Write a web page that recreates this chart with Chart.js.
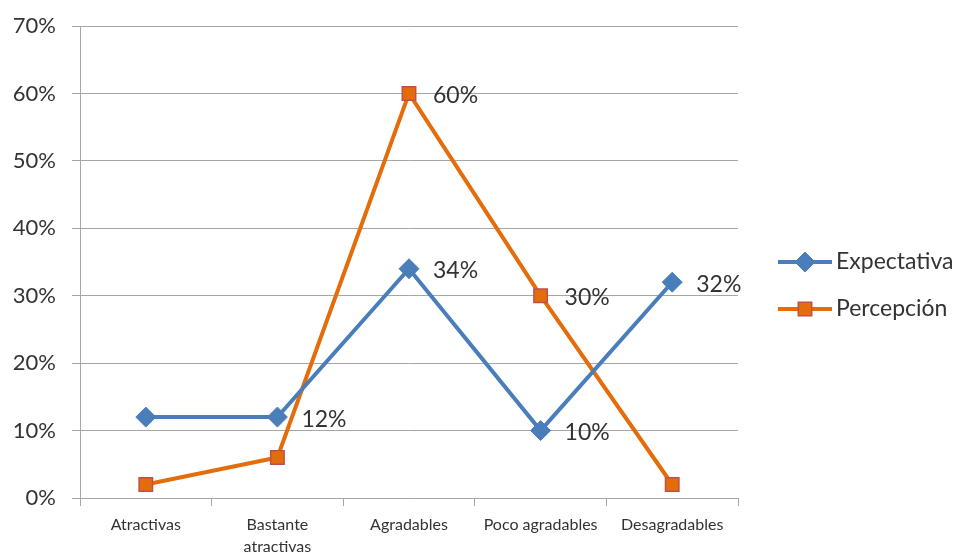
<!DOCTYPE html>
<html>
<head>
<meta charset="utf-8">
<script src="https://cdn.jsdelivr.net/npm/chart.js@4.4.1/dist/chart.umd.min.js"></script>
<style>
  html, body { margin: 0; padding: 0; background: #fff; }
  #wrap { width: 962px; height: 554px; }
</style>
</head>
<body>
<div id="wrap"><canvas id="chart"></canvas></div>
<script>
const categories = ['Atractivas', ['Bastante', 'atractivas'], 'Agradables', 'Poco agradables', 'Desagradables'];
const expectativa = [12, 12, 34, 10, 32];
const percepcion = [2, 6, 60, 30, 2];
// which points carry a value label (same as the picture)
const expectativaLabels = [false, true, true, true, true];
const percepcionLabels = [false, false, true, true, false];
const yTicks = [0, 10, 20, 30, 40, 50, 60, 70];

const FONT = 'Lato, "Open Sans", sans-serif';
const gridColor = '#a6a6a6';
const textColor = '#333333';

// value labels beside points
const pointLabels = {
  id: 'pointLabels',
  afterDatasetsDraw(chart) {
    const ctx = chart.ctx;
    const flags = [expectativaLabels, percepcionLabels];
    ctx.save();
    ctx.font = '23px ' + FONT;
    ctx.fillStyle = textColor;
    ctx.textAlign = 'left';
    ctx.textBaseline = 'middle';
    chart.data.datasets.forEach((ds, i) => {
      chart.getDatasetMeta(i).data.forEach((pt, j) => {
        if (!flags[i][j]) return;
        ctx.fillText(ds.data[j] + '%', pt.x + 24, pt.y + 2);
      });
    });
    ctx.restore();
  }
};

// legend on the right with line + marker
const sideLegend = {
  id: 'sideLegend',
  afterDraw(chart) {
    const ctx = chart.ctx;
    const x0 = 778, x1 = 832;
    const rows = [262, 309];
    ctx.save();
    chart.data.datasets.forEach((ds, i) => {
      const y = rows[i];
      ctx.strokeStyle = ds.borderColor;
      ctx.lineWidth = ds.borderWidth;
      ctx.beginPath();
      ctx.moveTo(x0, y);
      ctx.lineTo(x1, y);
      ctx.stroke();
      ctx.fillStyle = ds.pointBackgroundColor;
      ctx.strokeStyle = ds.pointBorderColor;
      ctx.lineWidth = ds.pointBorderWidth;
      Chart.helpers.drawPoint(ctx, {
        pointStyle: ds.pointStyle,
        radius: ds.pointRadius,
        borderWidth: ds.pointBorderWidth
      }, (x0 + x1) / 2, y);
      ctx.fillStyle = textColor;
      ctx.font = '23px ' + FONT;
      ctx.textAlign = 'left';
      ctx.textBaseline = 'middle';
      ctx.fillText(ds.label, x1 + 4, y);
    });
    ctx.restore();
  }
};

new Chart(document.getElementById('chart'), {
  type: 'line',
  data: {
    labels: categories,
    datasets: [
      {
        label: 'Expectativa',
        data: expectativa,
        borderColor: '#4a7ebb',
        borderWidth: 4,
        pointStyle: 'rectRot',
        pointRadius: 10,
        pointBackgroundColor: '#4a7ebb',
        pointBorderColor: '#4a7ebb',
        pointBorderWidth: 1,
        tension: 0
      },
      {
        label: 'Percepción',
        data: percepcion,
        borderColor: '#e46c0a',
        borderWidth: 4,
        pointStyle: 'rect',
        pointRadius: 9.5,
        pointBackgroundColor: '#e46c0a',
        pointBorderColor: '#c0504d',
        pointBorderWidth: 1.5,
        tension: 0
      }
    ]
  },
  options: {
    responsive: true,
    maintainAspectRatio: false,
    animation: false,
    layout: { padding: { top: 26, right: 224, left: 0, bottom: 0 } },
    plugins: {
      legend: { display: false },
      tooltip: { enabled: false }
    },
    scales: {
      x: {
        offset: true,
        grid: {
          offset: true,
          drawOnChartArea: false,
          color: gridColor,
          tickLength: 8
        },
        border: { color: gridColor, width: 1 },
        ticks: {
          color: textColor,
          font: { family: FONT, size: 16, lineHeight: 1.35 },
          padding: 8,
          maxRotation: 0,
          autoSkip: false
        },
        afterFit(scale) { scale.height = 56; }
      },
      y: {
        min: 0,
        max: 70,
        afterBuildTicks(scale) { scale.ticks = yTicks.map(v => ({ value: v })); },
        grid: { color: gridColor, tickLength: 8 },
        border: { color: gridColor, width: 1 },
        ticks: {
          color: textColor,
          font: { family: FONT, size: 22 },
          padding: 16,
          callback: v => v + '%'
        },
        afterFit(scale) {
          scale.width = 80;
          scale.paddingTop = 0;
          scale.paddingBottom = 0;
        }
      }
    }
  },
  plugins: [pointLabels, sideLegend]
});
</script>
</body>
</html>
